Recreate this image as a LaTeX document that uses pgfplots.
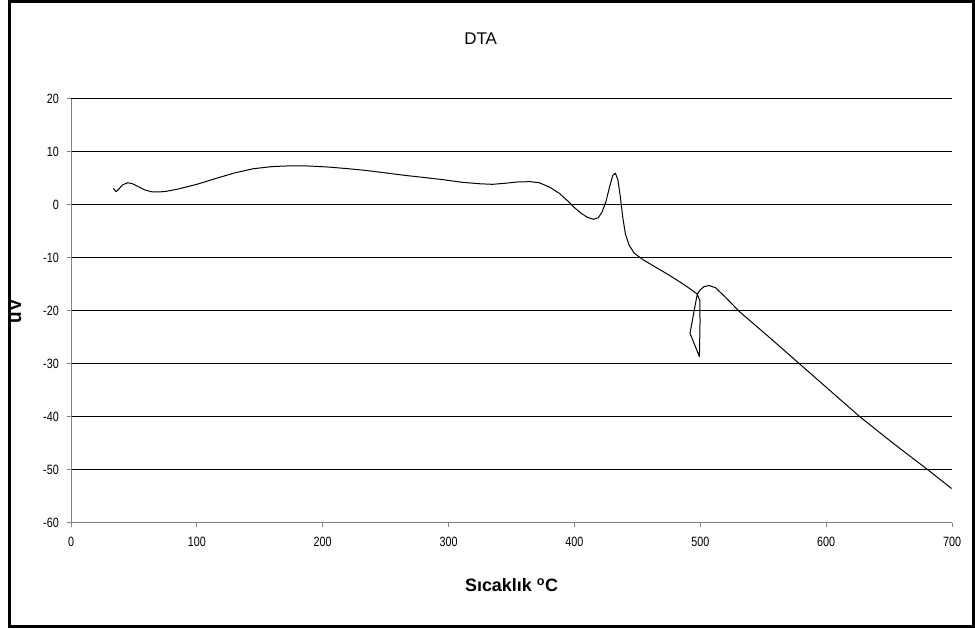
\documentclass[border=0pt]{standalone}
\usepackage{fontspec}
\setmainfont{Liberation Sans}
\newfontfamily\narrowfont[FakeStretch=0.8]{Liberation Sans}
\usepackage{pgfplots}
\pgfplotsset{compat=1.18}
\definecolor{axgray}{RGB}{128,128,128}
\begin{document}
\begin{tikzpicture}[x=1bp,y=1bp]
\useasboundingbox (0,0) rectangle (975,629);
\draw[line width=3bp] (9.5,2.5) rectangle (973,627);
\begin{axis}[
  at={(71bp,106bp)}, anchor=south west,
  scale only axis, width=881bp, height=424bp,
  xmin=0, xmax=700, ymin=-60, ymax=20,
  enlargelimits=false,
  axis x line*=bottom, axis y line*=left,
  axis line style={axgray, line width=1bp},
  xtick={0,100,200,300,400,500,600,700},
  xticklabels={0,100,200,300,400,500,600,700},
  ytick={-60,-50,-40,-30,-20,-10,0,10,20},
  yticklabels={-60,-50,-40,-30,-20,-10,0,10,20},
  tick align=outside, major tick length=4bp,
  tick style={axgray, line width=1bp},
  ymajorgrids, major grid style={black, line width=1bp},
  tick label style={font=\narrowfont\fontsize{13.5}{15}\selectfont, inner sep=0pt},
  yticklabel style={anchor=east, xshift=-8bp},
  xticklabel style={anchor=north, yshift=-10bp},
  title={DTA},
  title style={at={(0.465,1.127)}, anchor=center, inner sep=0pt, font=\fontsize{17}{20}\selectfont},
  xlabel={Sıcaklık \textsuperscript{o}C},
  xlabel style={at={(0.5,-0.146)}, anchor=center, inner sep=0pt, font=\bfseries\fontsize{18}{21}\selectfont},
  ylabel={uV},
  ylabel style={at={(-0.064,0.5)}, anchor=center, inner sep=0pt, font=\bfseries\fontsize{19}{22}\selectfont},
  clip=false,
]
\addplot[black, line width=1bp, line join=round, mark=none] coordinates {
(33.6,3.15)(35.8,2.5)(38,3.0)(41,3.8)(45,4.2)(49,4.0)(54,3.4)(59,2.8)(64,2.5)(69,2.45)(75,2.55)(85,3.0)(100,3.9)(115,5.0)(130,6.05)(145,6.85)(160,7.25)(175,7.4)(190,7.35)(205,7.15)(220,6.85)(235,6.5)(250,6.05)(265,5.6)(280,5.2)(295,4.8)(310,4.3)(325,4.0)(335,3.9)(345,4.1)(355,4.35)(365,4.4)(372,4.2)(380,3.4)(388,2.2)(395,0.7)(400,-0.5)(405,-1.5)(410,-2.3)(415,-2.7)(419,-2.4)(422,-1.3)(425,0.6)(428,3.5)(430.5,5.6)(432.5,6.0)(434.5,4.8)(436.5,1.5)(438.5,-2.5)(440.5,-5.5)(443.5,-7.6)(447.5,-9.1)(455,-10.4)(465,-11.8)(475,-13.2)(485,-14.7)(493,-16)(497.6,-16.8)(499.6,-18)(499.8,-22)(499.3,-28.6)(491.8,-24.2)(497.6,-16.8)(500,-16)(503,-15.4)(507,-15.2)(512,-15.6)(520,-17.4)(531,-20.1)(555,-25)(579,-30)(603,-35)(627,-40)(654,-45.1)(681,-50)(699.7,-53.5)
};
\end{axis}
\end{tikzpicture}
\end{document}
